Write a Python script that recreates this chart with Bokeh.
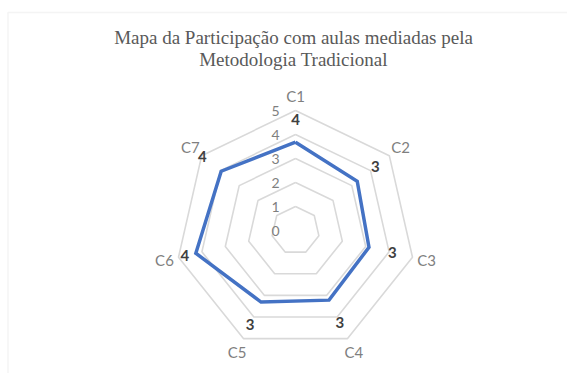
import numpy as np
from bokeh.plotting import figure
from bokeh.models import Range1d, BoxAnnotation
from bokeh.core.properties import value
from bokeh.embed import file_html
from bokeh.resources import INLINE

# ---- data ----
categories = ["C1", "C2", "C3", "C4", "C5", "C6", "C7"]
scores = [3.68, 3.29, 3.14, 3.22, 3.31, 4.26, 3.96]
levels = [1, 2, 3, 4, 5]
tick_labels = ["0", "1", "2", "3", "4", "5"]
title_lines = ["Mapa da Participação com aulas mediadas pela", "Metodologia Tradicional"]

# ---- style ----
label_offsets = [0.95, 0.97, 1.0, 1.04, 1.06, 0.47, 1.0]
PX = 24.0  # pixels per unit
W, H = 567, 373
cx, cy = 295, 230

n = len(categories)
theta = np.arange(n) * 2 * np.pi / n
sx, sy = np.sin(theta), np.cos(theta)

p = figure(width=W, height=H, output_backend="svg", toolbar_location=None,
           x_range=Range1d(-cx / PX, (W - cx) / PX),
           y_range=Range1d(-(H - cy) / PX, cy / PX),
           min_border=0, min_border_left=0, min_border_right=0,
           min_border_top=0, min_border_bottom=0)
p.axis.visible = False
p.grid.visible = False
p.outline_line_color = None
p.background_fill_color = "white"
p.border_fill_color = "white"

# chart border (only left/top visible)
p.add_layout(BoxAnnotation(left=-cx / PX + 7.5 / PX, top=cy / PX - 12 / PX,
                           right=(W - cx) / PX + 5, bottom=-(H - cy) / PX - 5,
                           fill_alpha=0, line_color="#d9d9d9", line_width=1.5))

# grid rings
xs = [list(np.append(sx * lv, sx[0] * lv)) for lv in levels]
ys = [list(np.append(sy * lv, sy[0] * lv)) for lv in levels]
p.multi_line(xs, ys, line_color="#d9d9d9", line_width=1.6)

# data polygon
v = np.array(scores)
p.line(list(np.append(sx * v, sx[0] * v[0])), list(np.append(sy * v, sy[0] * v[0])),
       line_color="#4472C4", line_width=3.5, line_join="miter")

# data labels
lr = v + np.array(label_offsets)
p.text(x=list(sx * lr), y=list(sy * lr), text=[str(int(round(s))) for s in scores],
       text_font=value("Lato"), text_font_style="bold", text_font_size="15px",
       text_color="#404040", text_align="center", text_baseline="middle")

# category labels
R = 5.6
p.text(x=list(sx * R), y=list(sy * R), text=categories,
       text_font=value("Lato"), text_font_size="15px", text_color="#7f7f7f",
       text_align="center", text_baseline="middle")

# tick labels along C1 axis
p.text(x=[-20 / PX] * len(tick_labels), y=[float(t) for t in tick_labels], text=tick_labels,
       text_font=value("Lato"), text_font_size="14px", text_color="#7f7f7f",
       text_align="center", text_baseline="middle")

# title
p.text(x=[-2 / PX, -2 / PX], y=[(cy - 37) / PX, (cy - 59) / PX], text=title_lines,
       text_font=value("serif"), text_font_size="19px",
       text_color="#595959", text_align="center", text_baseline="middle")

open("out.html", "w").write(file_html(p, INLINE))
